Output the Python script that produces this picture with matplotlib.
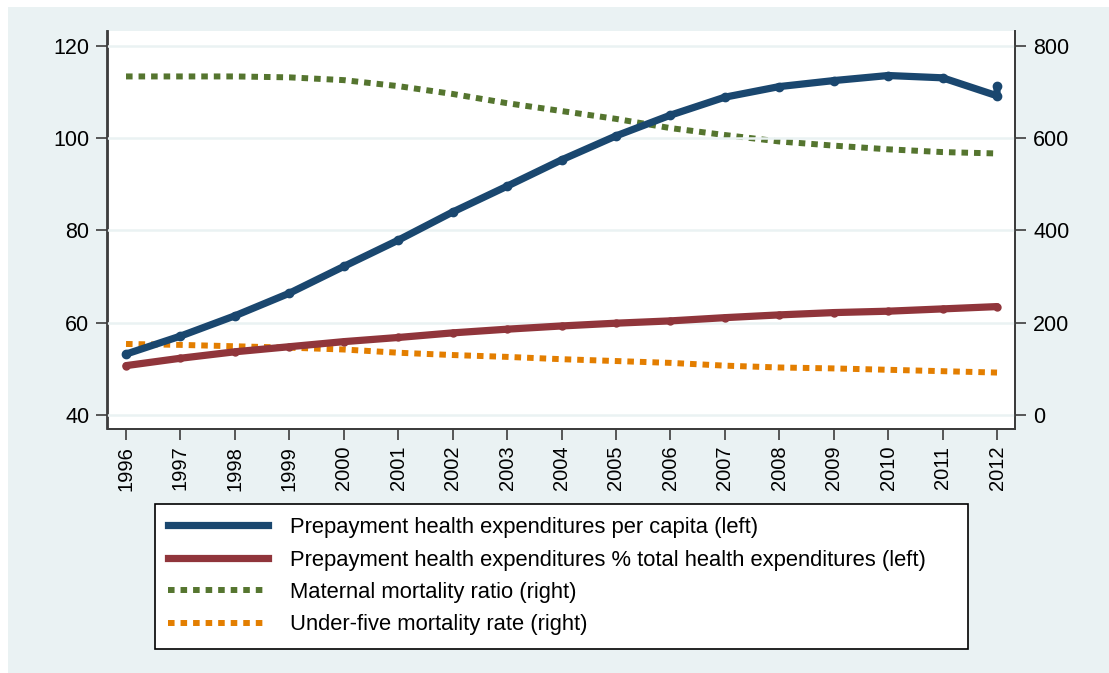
import matplotlib
matplotlib.use("Agg")
import matplotlib.pyplot as plt
from matplotlib.patches import Rectangle

plt.rcParams['font.family'] = ['Liberation Sans', 'DejaVu Sans']

# data
years = [1996, 1997, 1998, 1999, 2000, 2001, 2002, 2003, 2004, 2005, 2006,
         2007, 2008, 2009, 2010, 2011, 2012]
per_capita = [53.2, 57.1, 61.5, 66.4, 72.2, 77.9, 84.0, 89.6, 95.3, 100.5, 105.0,
              108.9, 111.2, 112.5, 113.6, 113.1, 109.2]
# the last year has a second, slightly higher reading in the picture
per_capita_years = years + [2012]
per_capita_vals = per_capita + [111.3]
pct_total = [50.7, 52.3, 53.7, 54.8, 55.9, 56.8, 57.8, 58.6, 59.3, 59.9, 60.4,
             61.1, 61.7, 62.2, 62.5, 63.0, 63.5]
maternal = [734, 734, 734, 732, 726, 713, 696, 676, 659, 642, 622,
            607, 593, 584, 576, 570, 567]
under_five = [154, 152, 149, 146, 142, 135, 130, 126, 121, 117, 113,
              107, 103, 101, 98, 95, 92]

labels = ["Prepayment health expenditures per capita (left)",
          "Prepayment health expenditures % total health expenditures (left)",
          "Maternal mortality ratio (right)",
          "Under-five mortality rate (right)"]

navy = "#1a476f"
maroon = "#90353b"
green = "#55752f"
orange = "#e37e00"
bg = "#eaf2f3"
axcol = "#3c3c3c"
dots = (0, (1.1, 1.0))

W, H = 1109, 673
fig = plt.figure(figsize=(W / 100, H / 100), dpi=100, facecolor="white")
# stata style outer region, behind the axes
fig.patches.append(Rectangle((8 / W, 0), 1 - 8 / W, 1 - 7 / H, transform=fig.transFigure,
                             facecolor=bg, edgecolor="none", zorder=-10))

ax2 = fig.add_axes([107.5 / W, (H - 429) / H, (1015 - 107.5) / W, (429 - 31) / H])
ax = ax2.twinx()   # left-scale lines drawn on top
ax.yaxis.tick_left()
ax.yaxis.set_label_position("left")
ax2.yaxis.tick_right()

ax2.set_xlim(1995.66, 2012.33)
ax.set_ylim(36.96, 123.25)
ax2.set_ylim(-30.35, 832.5)

ax.set_yticks([40, 60, 80, 100, 120])
ax2.set_yticks([0, 200, 400, 600, 800])
ax2.set_xticks(years)
ax2.set_xticklabels([str(y) for y in years], rotation=90)

ax.grid(False)
ax2.grid(False)
for yv in [40, 60, 80, 100, 120]:
    ax.axhline(yv, color=bg, linewidth=1.8, zorder=0)

for a in (ax, ax2):
    a.spines["top"].set_visible(False)
    for s in ("left", "right", "bottom"):
        a.spines[s].set_color(axcol)
        a.spines[s].set_linewidth(1.3)
    a.tick_params(direction="out", length=8, width=1.2, color=axcol,
                  labelsize=15.5, labelcolor="black", pad=5)
ax2.tick_params(axis="x", labelsize=14.5, pad=4)
ax2.set_facecolor("white")
ax.patch.set_visible(False)

l3, = ax2.plot(years, maternal, color=green, linewidth=4.3, linestyle=dots,
               dash_capstyle="butt", zorder=2)
l4, = ax2.plot(years, under_five, color=orange, linewidth=4.3, linestyle=dots,
               dash_capstyle="butt", zorder=2)
l1, = ax.plot(per_capita_years, per_capita_vals, color=navy, linewidth=5.2,
              marker="o", markersize=6, solid_capstyle="round", zorder=3)
l2, = ax.plot(years, pct_total, color=maroon, linewidth=5.2,
              marker="o", markersize=5, solid_capstyle="round", zorder=3)

# legend handles without markers
h1, = ax.plot([], [], color=navy, linewidth=5.2)
h2, = ax.plot([], [], color=maroon, linewidth=5.2)
h3, = ax.plot([], [], color=green, linewidth=4.3, linestyle=dots)
h4, = ax.plot([], [], color=orange, linewidth=4.3, linestyle=dots)

leg = fig.legend([h1, h2, h3, h4], labels, loc="upper left",
                 bbox_to_anchor=(155 / W, 1 - 645 / H, (968 - 155) / W, (645 - 504) / H),
                 mode="expand", fontsize=15.8,
                 frameon=True, fancybox=False, edgecolor="black", framealpha=1,
                 handlelength=4.55, handletextpad=1.0, labelspacing=0.52,
                 borderpad=0.6, borderaxespad=0)
leg.get_frame().set_linewidth(1.2)

fig.savefig("out.png", dpi=100, facecolor="white")
